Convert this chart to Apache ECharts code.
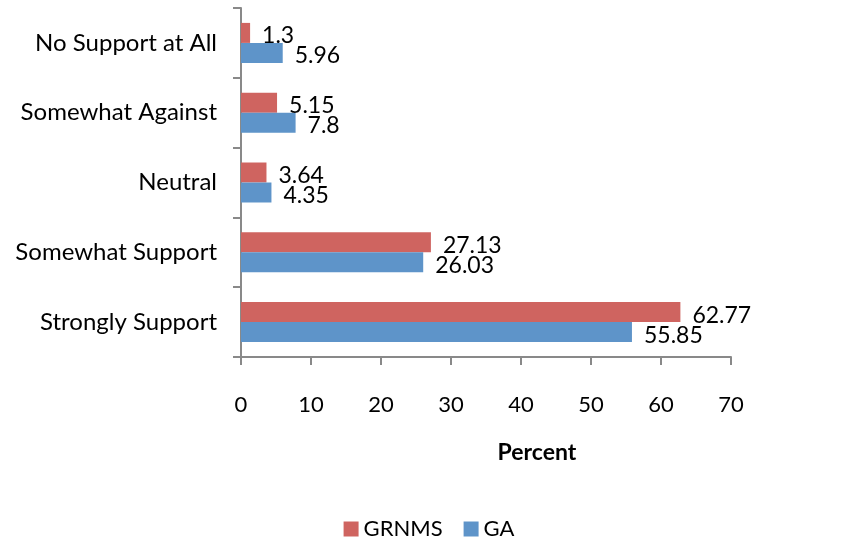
<!DOCTYPE html>
<html>
<head>
<meta charset="utf-8">
<script src="https://cdn.jsdelivr.net/npm/echarts@6/dist/echarts.min.js"></script>
<style>html,body{margin:0;padding:0;background:#fff}#c{width:858px;height:540px}</style>
</head>
<body>
<div id="c"></div>
<script>
const categories = ['Strongly Support', 'Somewhat Support', 'Neutral', 'Somewhat Against', 'No Support at All'];
const grnms = [62.77, 27.13, 3.64, 5.15, 1.3];
const ga = [55.85, 26.03, 4.35, 7.8, 5.96];
const xTicks = { min: 0, max: 70, interval: 10 };

const FONT = 'Lato';
const chart = echarts.init(document.getElementById('c'));
const labelStyle = {
  show: true, position: 'right', distance: 12, offset: [0, 3],
  color: '#000', fontFamily: FONT, fontSize: 23
};
chart.setOption({
  animation: false,
  textStyle: { fontFamily: FONT },
  grid: { left: 241, right: 127, top: 8, bottom: 183 },
  legend: {
    data: ['GRNMS', 'GA'], left: 'center', top: 513,
    itemWidth: 15, itemHeight: 15, itemGap: 21, icon: 'rect',
    textStyle: { fontFamily: FONT, fontSize: 22, color: '#000' }
  },
  xAxis: {
    type: 'value', min: xTicks.min, max: xTicks.max, interval: xTicks.interval,
    name: 'Percent', nameLocation: 'middle', nameGap: 84,
    nameTextStyle: { fontFamily: FONT, fontSize: 23, fontWeight: 'bold', color: '#000', padding: [0, 0, 0, 102] },
    axisLine: { show: true, lineStyle: { color: '#898989', width: 2 } },
    axisTick: { show: true, length: 8, lineStyle: { color: '#898989', width: 2 } },
    axisLabel: { margin: 37, color: '#000', fontFamily: FONT, fontSize: 22 },
    splitLine: { show: false }
  },
  yAxis: {
    type: 'category', data: categories,
    axisLine: { show: true, lineStyle: { color: '#898989', width: 2 } },
    axisTick: { show: true, length: 8, lineStyle: { color: '#898989', width: 2 } },
    axisLabel: { margin: 24, color: '#000', fontFamily: FONT, fontSize: 24 }
  },
  series: [
    { name: 'GRNMS', type: 'bar', data: grnms, barWidth: 20, barGap: '0%',
      itemStyle: { color: '#CF6460' }, label: labelStyle },
    { name: 'GA', type: 'bar', data: ga, barWidth: 20, barGap: '0%',
      itemStyle: { color: '#5E94C9' }, label: labelStyle }
  ]
});
</script>
</body>
</html>
